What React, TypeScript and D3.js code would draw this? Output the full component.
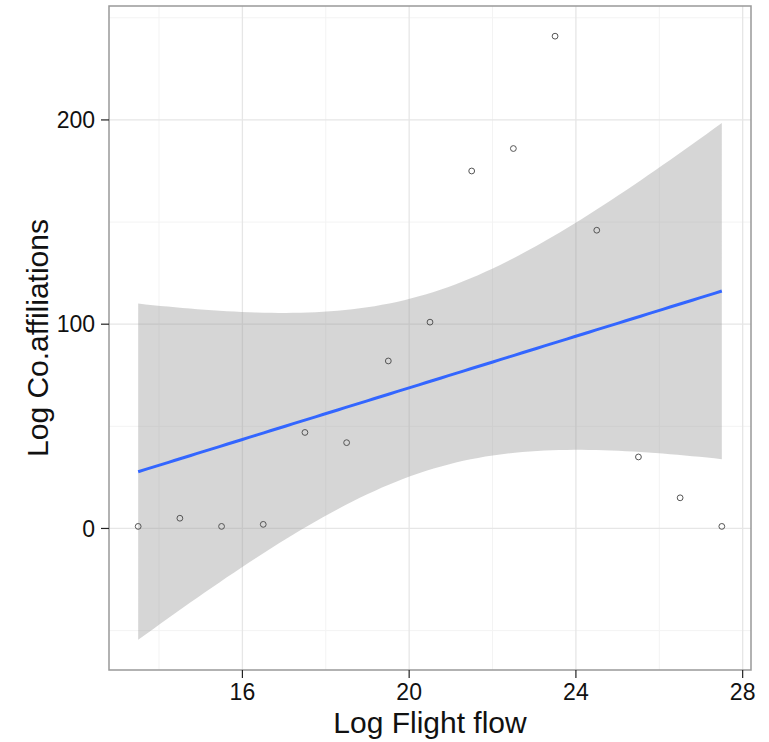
import * as d3 from "d3";

// observations
const flightFlow = [13.5, 14.5, 15.5, 16.5, 17.5, 18.5, 19.5, 20.5, 21.5, 22.5, 23.5, 24.5, 25.5, 26.5, 27.5];
const coAffiliations = [1, 5, 1, 2, 47, 42, 82, 101, 175, 186, 241, 146, 35, 15, 1];

const xTicks = [16, 20, 24, 28];
const xMinor = [14, 18, 22, 26];
const yTicks = [0, 100, 200];
const yMinor = [-50, 50, 150, 250];

const width = 769;
const height = 742;
const panel = { left: 109, right: 751, top: 6, bottom: 670 };
const T_975_DF13 = 2.160369;

// lm fit + 95% confidence band (like geom_smooth(method = "lm"))
function fitLm(xs: number[], ys: number[]) {
  const n = xs.length;
  const mx = d3.mean(xs)!;
  const my = d3.mean(ys)!;
  const sxx = d3.sum(xs, (x) => (x - mx) ** 2);
  const sxy = d3.sum(xs, (x, i) => (x - mx) * (ys[i] - my));
  const slope = sxy / sxx;
  const icept = my - slope * mx;
  const sse = d3.sum(xs, (x, i) => (ys[i] - (icept + slope * x)) ** 2);
  const sigma2 = sse / (n - 2);
  const [x0, x1] = d3.extent(xs) as [number, number];
  return d3.range(80).map((i) => {
    const x = x0 + ((x1 - x0) * i) / 79;
    const fit = icept + slope * x;
    const se = Math.sqrt(sigma2 * (1 / n + (x - mx) ** 2 / sxx));
    return { x, fit, lo: fit - T_975_DF13 * se, hi: fit + T_975_DF13 * se };
  });
}

const band = fitLm(flightFlow, coAffiliations);

function expand([a, b]: [number, number]): [number, number] {
  const p = (b - a) * 0.05;
  return [a - p, b + p];
}

const x = d3
  .scaleLinear()
  .domain(expand(d3.extent(flightFlow) as [number, number]))
  .range([panel.left, panel.right]);

const y = d3
  .scaleLinear()
  .domain(
    expand([
      Math.min(d3.min(coAffiliations)!, d3.min(band, (d) => d.lo)!),
      Math.max(d3.max(coAffiliations)!, d3.max(band, (d) => d.hi)!),
    ])
  )
  .range([panel.bottom, panel.top]);

const area = d3
  .area<{ x: number; lo: number; hi: number }>()
  .x((d) => x(d.x))
  .y0((d) => y(d.lo))
  .y1((d) => y(d.hi));

const line = d3
  .line<{ x: number; fit: number }>()
  .x((d) => x(d.x))
  .y((d) => y(d.fit));

const font = "Arial, 'Liberation Sans', sans-serif";

export default function App() {
  return (
    <svg
      width={width}
      height={height}
      viewBox={`0 0 ${width} ${height}`}
      style={{ position: "absolute", left: 0, top: 0, background: "#fff" }}
      fontFamily={font}
    >
      <g>
        {xMinor.map((t) => (
          <line key={"xm" + t} x1={x(t)} x2={x(t)} y1={panel.top} y2={panel.bottom} stroke="#f3f3f3" strokeWidth={1} />
        ))}
        {yMinor.map((t) => (
          <line key={"ym" + t} x1={panel.left} x2={panel.right} y1={y(t)} y2={y(t)} stroke="#f3f3f3" strokeWidth={1} />
        ))}
        {xTicks.map((t) => (
          <line key={"xg" + t} x1={x(t)} x2={x(t)} y1={panel.top} y2={panel.bottom} stroke="#e6e6e6" strokeWidth={1.3} />
        ))}
        {yTicks.map((t) => (
          <line key={"yg" + t} x1={panel.left} x2={panel.right} y1={y(t)} y2={y(t)} stroke="#e6e6e6" strokeWidth={1.3} />
        ))}
      </g>

      <path d={area(band) ?? ""} fill="#999999" fillOpacity={0.4} />

      <g fill="none" stroke="#555" strokeWidth={1}>
        {flightFlow.map((fx, i) => (
          <circle key={i} cx={x(fx)} cy={y(coAffiliations[i])} r={2.9} />
        ))}
      </g>

      <path d={line(band) ?? ""} fill="none" stroke="#3366FF" strokeWidth={3} />

      <rect
        x={panel.left}
        y={panel.top}
        width={panel.right - panel.left}
        height={panel.bottom - panel.top}
        fill="none"
        stroke="#999"
        strokeWidth={1.5}
      />

      <g>
        {xTicks.map((t) => (
          <g key={"xt" + t} transform={`translate(${x(t)},${panel.bottom})`}>
            <line y1={0} y2={8} stroke="#222" strokeWidth={1.2} />
            <text y={30} textAnchor="middle" fontSize={23} fill="#111">
              {t}
            </text>
          </g>
        ))}
        {yTicks.map((t) => (
          <g key={"yt" + t} transform={`translate(${panel.left},${y(t)})`}>
            <line x1={-8} x2={0} stroke="#222" strokeWidth={1.2} />
            <text x={-14} dy="0.36em" textAnchor="end" fontSize={23} fill="#111">
              {t}
            </text>
          </g>
        ))}
      </g>

      <text x={(panel.left + panel.right) / 2} y={733} textAnchor="middle" fontSize={30} fill="#111">
        Log Flight flow
      </text>
      <text
        transform={`translate(48,${(panel.top + panel.bottom) / 2}) rotate(-90)`}
        textAnchor="middle"
        fontSize={30}
        fill="#111"
      >
        Log Co.affiliations
      </text>
    </svg>
  );
}
